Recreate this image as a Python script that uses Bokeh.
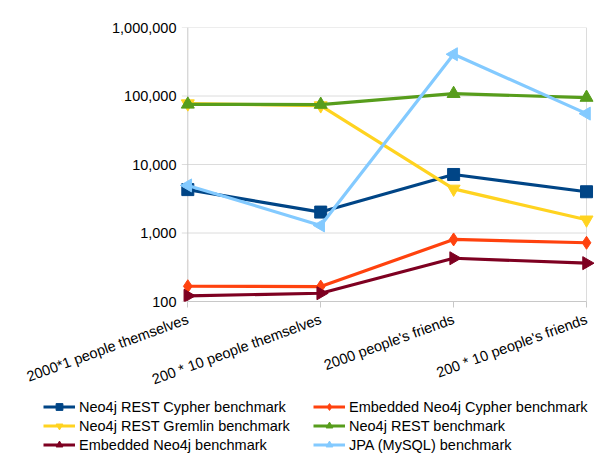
import math
from bokeh.plotting import figure
from bokeh.layouts import column, row
from bokeh.models import Range1d, FixedTicker, NumeralTickFormatter, Legend, LegendItem
from bokeh.embed import file_html
from bokeh.resources import INLINE

categories = ["2000*1 people themselves", "200 * 10 people themselves",
              "2000 people's friends", "200 * 10 people's friends"]
rest_cypher = [4300, 2020, 7150, 4000]
embedded_cypher = [167, 165, 805, 720]
rest_gremlin = [77400, 72500, 4400, 1560]
rest = [75500, 75000, 108000, 95000]
embedded = [121, 132, 428, 363]
jpa_mysql = [4950, 1290, 407000, 55300]
y_ticks = [100, 1000, 10000, 100000, 1000000]

names = ["Neo4j REST Cypher benchmark", "Embedded Neo4j Cypher benchmark",
         "Neo4j REST Gremlin benchmark", "Neo4j REST benchmark",
         "Embedded Neo4j benchmark", "JPA (MySQL) benchmark"]
values = [rest_cypher, embedded_cypher, rest_gremlin, rest, embedded, jpa_mysql]
colors = ["#004586", "#ff420e", "#ffd320", "#579d1c", "#7e0021", "#83caff"]
markers = ["square", "diamond", "inverted_triangle", "triangle", "triangle", "triangle"]
angles = [0, 0, 0, 0, -math.pi / 2, math.pi / 2]
msizes = [12, 13, 13, 13, 13, 13]

FONT = "Liberation Sans"
FS = "14.5px"
GRID = "#dcdcdc"
AXIS = "#c8c8c8"
TICK = 0.045  # y tick length in category units (about 6 px)

x = list(range(len(categories)))

p = figure(width=603, height=398, y_axis_type="log",
           x_range=Range1d(-0.07, len(categories) - 1 + 0.06),
           y_range=Range1d(y_ticks[0], y_ticks[-1]),
           output_backend="svg", toolbar_location=None,
           min_border_left=178, min_border_right=9, min_border_top=27, min_border_bottom=97,
           background_fill_color="white", border_fill_color="white",
           outline_line_color=None)

# horizontal grid lines (with their outward ticks), y axis line and right border
p.segment(x0=[x[0] - TICK] * len(y_ticks), x1=[x[-1]] * len(y_ticks), y0=y_ticks, y1=y_ticks,
          line_color=GRID, line_width=1)
p.segment(x0=[x[0], x[-1]], x1=[x[0], x[-1]], y0=[y_ticks[0]] * 2, y1=[y_ticks[-1]] * 2,
          line_color=[AXIS, GRID], line_width=1)

for vals, c, m, a, s in zip(values, colors, markers, angles, msizes):
    p.line(x, vals, line_color=c, line_width=3.2)
    p.scatter(x, vals, marker=m, angle=a, size=s, fill_color=c, line_color=c)

p.xaxis.ticker = FixedTicker(ticks=x)
p.xaxis.major_label_overrides = {i: lab for i, lab in enumerate(categories)}
p.xaxis.major_label_orientation = 0.35
p.xaxis.major_label_standoff = 11
p.xaxis.bounds = (x[0], x[-1])
p.xaxis.axis_line_color = AXIS
p.xaxis.major_tick_line_color = AXIS
p.xaxis.major_tick_in = 0
p.xaxis.major_tick_out = 6

p.yaxis.ticker = FixedTicker(ticks=y_ticks, minor_ticks=[])
p.yaxis.formatter = NumeralTickFormatter(format="0,0")
p.yaxis.axis_line_color = None
p.yaxis.major_tick_line_color = None
p.yaxis.major_tick_in = 0
p.yaxis.major_tick_out = 0
p.yaxis.major_label_standoff = 2

for ax in (p.xaxis[0], p.yaxis[0]):
    ax.minor_tick_line_color = None
    ax.major_label_text_font = FONT
    ax.major_label_text_font_size = FS
    ax.major_label_text_color = "black"

p.xgrid.grid_line_color = None
p.ygrid.grid_line_color = None
p.ygrid.minor_grid_line_color = None

# legend strip below the chart (its renderers hold the same series, kept out of its view)
pl = figure(width=603, height=55, x_range=Range1d(0, 1), y_range=Range1d(0, 1),
            output_backend="svg", toolbar_location=None,
            x_axis_location=None, y_axis_location=None,
            min_border_left=0, min_border_right=0, min_border_top=0, min_border_bottom=0,
            background_fill_color="white", border_fill_color="white",
            outline_line_color=None)
pl.grid.visible = False

items = []
for name, vals, c, m, s in zip(names, values, colors, markers, msizes):
    lr = pl.line(x, vals, line_color=c, line_width=3.2)
    sr = pl.scatter(x, vals, marker=m, size=s, fill_color=c, line_color=c)
    items.append(LegendItem(label=name, renderers=[lr, sr]))

for its, xloc in (([items[0], items[2], items[4]], 43), ([items[1], items[3], items[5]], 313)):
    leg = Legend(items=its, location=(xloc, 0), orientation="vertical",
                 padding=0, margin=0, spacing=2, glyph_width=32, glyph_height=17,
                 label_height=17, label_standoff=4, label_text_font=FONT,
                 label_text_font_size=FS, label_text_color="black",
                 border_line_color=None, background_fill_alpha=0)
    pl.add_layout(leg)

layout = column(p, row(pl), spacing=0)
open("out.html", "w").write(file_html(layout, INLINE))
